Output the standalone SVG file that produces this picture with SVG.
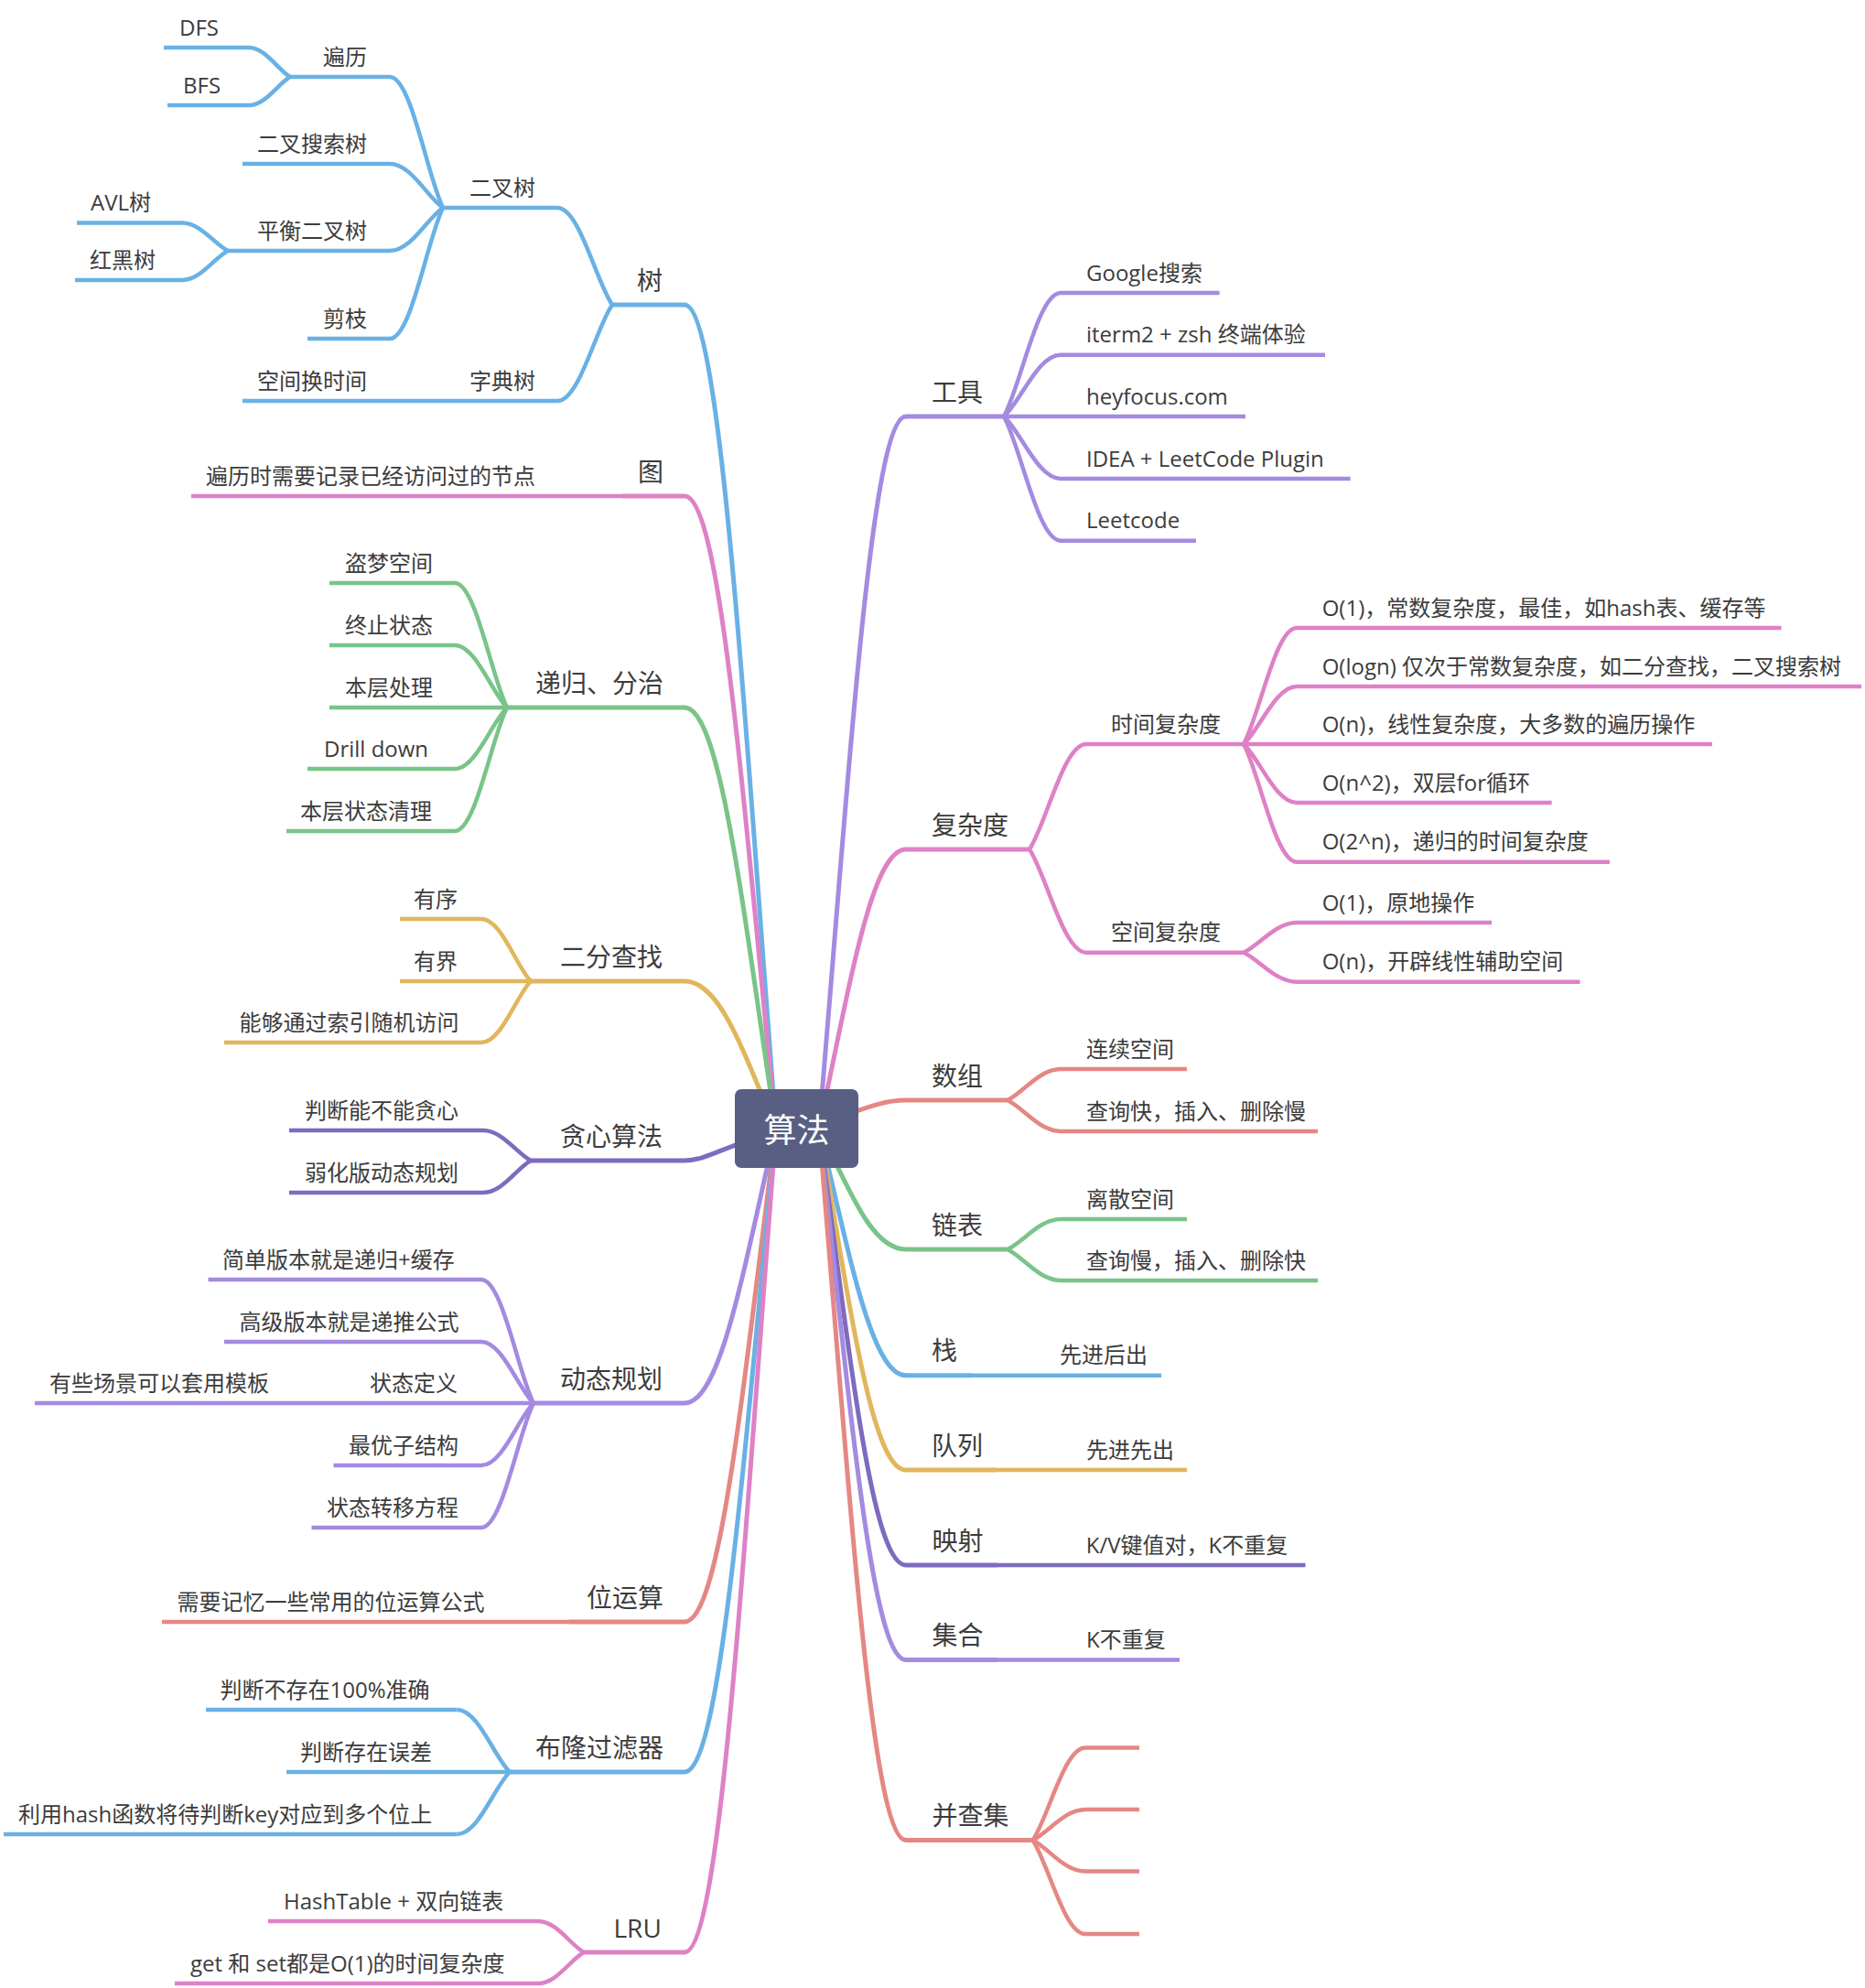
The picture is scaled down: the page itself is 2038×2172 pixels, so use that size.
<svg xmlns="http://www.w3.org/2000/svg" width="2038" height="2172" viewBox="0 0 2038 2172">
<style>
.t{font-family:"Open Sans","Noto Sans CJK SC",sans-serif;fill:#3c3c3c}
.s{font-size:24px}
.m{font-size:28px}
.r{font-family:"Noto Sans CJK SC","Open Sans",sans-serif;font-size:36px;fill:#ffffff}
.l{fill:none;stroke-width:4.5}
.lm{fill:none;stroke-width:5}
.c1{stroke:#69b1e5}
.c2{stroke:#de81c6}
.c3{stroke:#79c488}
.c4{stroke:#e1b65d}
.c5{stroke:#7e6bbf}
.c6{stroke:#a48ae0}
.c7{stroke:#e58784}
</style>
<rect width="2038" height="2172" fill="#ffffff"/>
<g id="connectors">
<path class="lm c1" d="M848,1233 C813,783 788,333 748,333"/>
<path class="lm c2" d="M848,1233 C813,887.5 788,542 748,542"/>
<path class="lm c3" d="M848,1233 C813,1003 788,773 748,773"/>
<path class="lm c4" d="M848,1233 C813,1152.5 788,1072 748,1072"/>
<path class="lm c5" d="M848,1240 C800,1246 775,1268 748,1268"/>
<path class="lm c6" d="M848,1233 C813,1383 788,1533 748,1533"/>
<path class="lm c7" d="M848,1233 C813,1502.5 788,1772 748,1772"/>
<path class="lm c1" d="M848,1233 C813,1584.5 788,1936 748,1936"/>
<path class="lm c2" d="M848,1233 C813,1683 788,2133 748,2133"/>
<path class="lm c6" d="M895,1233 C928,844 952,455 990,455"/>
<path class="lm c2" d="M895,1233 C928,1080.5 952,928 990,928"/>
<path class="lm c7" d="M895,1228 C930,1218 958,1202 990,1202"/>
<path class="lm c3" d="M895,1233 C928,1299 952,1365 990,1365"/>
<path class="lm c1" d="M895,1233 C928,1368 952,1502.7 990,1502.7"/>
<path class="lm c4" d="M895,1233 C928,1419.5 952,1606 990,1606"/>
<path class="lm c5" d="M895,1233 C928,1471.5 952,1710 990,1710"/>
<path class="lm c6" d="M895,1233 C928,1523 952,1813.5 990,1813.5"/>
<path class="lm c7" d="M895,1233 C928,1622 952,2010.6 990,2010.6"/>
<path class="l c1" d="M669,333 C651,306.5 633,227 609,227"/>
<path class="l c1" d="M669,333 C651,359.25 633,438 609,438"/>
<path class="l c1" d="M484,227 C466.6,191.25 449.2,84 426,84"/>
<path class="l c1" d="M484,227 C466.6,215 449.2,179 426,179"/>
<path class="l c1" d="M484,227 C466.6,238.75 449.2,274 426,274"/>
<path class="l c1" d="M484,227 C466.6,262.75 449.2,370 426,370"/>
<path class="l c1" d="M317,84 C303.5,76 290,52 272,52"/>
<path class="l c1" d="M317,84 C303.5,91.75 290,115 272,115"/>
<path class="l c1" d="M249,274 C234,266.4 219,243.5 199,243.5"/>
<path class="l c1" d="M249,274 C234,282 219,306 199,306"/>
<path class="l c3" d="M554,773 C536.9,739 519.8,637 497,637"/>
<path class="l c3" d="M554,773 C536.9,756 519.8,705 497,705"/>
<path class="l c3" d="M554,773 C536.9,789.75 519.8,840 497,840"/>
<path class="l c3" d="M554,773 C536.9,806.75 519.8,908 497,908"/>
<path class="l c4" d="M580,1072 C563.8,1055 547.6,1004 526,1004"/>
<path class="l c4" d="M580,1072 C563.8,1088.75 547.6,1139 526,1139"/>
<path class="l c5" d="M580,1268 C564.4,1259.75 548.8,1235 528,1235"/>
<path class="l c5" d="M580,1268 C564.4,1276.75 548.8,1303 528,1303"/>
<path class="l c6" d="M583,1533 C565.9,1499.25 548.8,1398 526,1398"/>
<path class="l c6" d="M583,1533 C565.9,1516.25 548.8,1466 526,1466"/>
<path class="l c6" d="M583,1533 C565.9,1550 548.8,1601 526,1601"/>
<path class="l c6" d="M583,1533 C565.9,1567 548.8,1669 526,1669"/>
<path class="l c1" d="M557,1936 C539.75,1919 522.5,1868 499.5,1868"/>
<path class="l c1" d="M557,1936 C539.75,1953 522.5,2004 499.5,2004"/>
<path class="l c2" d="M638,2133 C623,2124.5 608,2099 588,2099"/>
<path class="l c2" d="M638,2133 C623,2141.5 608,2167 588,2167"/>
<path class="l c6" d="M1097,455 C1115.6,421.25 1134.2,320 1159,320"/>
<path class="l c6" d="M1097,455 C1115.6,438.2 1134.2,387.7 1159,387.7"/>
<path class="l c6" d="M1097,455 C1115.6,472 1134.2,523 1159,523"/>
<path class="l c6" d="M1097,455 C1115.6,488.9 1134.2,590.7 1159,590.7"/>
<path class="l c2" d="M1125,928 C1143.6,899.25 1162.2,813 1187,813"/>
<path class="l c2" d="M1125,928 C1143.6,956.2 1162.2,1040.7 1187,1040.7"/>
<path class="l c2" d="M1359,813 C1376.4,781.25 1393.8,686 1417,686"/>
<path class="l c2" d="M1359,813 C1376.4,797.25 1393.8,750 1417,750"/>
<path class="l c2" d="M1359,813 C1376.4,829 1393.8,877 1417,877"/>
<path class="l c2" d="M1359,813 C1376.4,845.2 1393.8,941.7 1417,941.7"/>
<path class="l c2" d="M1359,1040.7 C1376.4,1032.5 1393.8,1008 1417,1008"/>
<path class="l c2" d="M1359,1040.7 C1376.4,1048.7 1393.8,1072.7 1417,1072.7"/>
<path class="l c7" d="M1101,1202 C1118.4,1193.5 1135.8,1168 1159,1168"/>
<path class="l c7" d="M1101,1202 C1118.4,1210.5 1135.8,1236 1159,1236"/>
<path class="l c3" d="M1101,1365 C1118.4,1356.75 1135.8,1332 1159,1332"/>
<path class="l c3" d="M1101,1365 C1118.4,1373.5 1135.8,1399 1159,1399"/>
<path class="l c7" d="M1128.5,2010.6 C1145.75,1985.3 1163,1909.5 1186,1909.5"/>
<path class="l c7" d="M1128.5,2010.6 C1145.75,2002.2 1163,1977 1186,1977"/>
<path class="l c7" d="M1128.5,2010.6 C1145.75,2019.1 1163,2044.6 1186,2044.6"/>
<path class="l c7" d="M1128.5,2010.6 C1145.75,2036.2 1163,2113 1186,2113"/>
</g>
<g id="n_tree"><path class="lm c1" d="M669,333H748"/><text class="t m" x="696" y="316.5">树</text></g>
<g id="n_bintree"><path class="l c1" d="M484,227H609"/><text class="t s" x="513" y="213.5">二叉树</text></g>
<g id="n_traverse"><path class="l c1" d="M317,84H426"/><text class="t s" x="353" y="70.5">遍历</text></g>
<g id="n_dfs"><path class="l c1" d="M179,52H272"/><text class="t s" x="196" y="38.5">DFS</text></g>
<g id="n_bfs"><path class="l c1" d="M183,115H272"/><text class="t s" x="200" y="101.5">BFS</text></g>
<g id="n_bst"><path class="l c1" d="M265,179H426"/><text class="t s" x="281" y="165.5">二叉搜索树</text></g>
<g id="n_balanced"><path class="l c1" d="M249,274H426"/><text class="t s" x="281" y="260.5">平衡二叉树</text></g>
<g id="n_avl"><path class="l c1" d="M84,243.5H199"/><text class="t s" x="99" y="230">AVL树</text></g>
<g id="n_rbt"><path class="l c1" d="M82,306H199"/><text class="t s" x="98" y="292.5">红黑树</text></g>
<g id="n_prune"><path class="l c1" d="M336,370H426"/><text class="t s" x="353" y="356.5">剪枝</text></g>
<g id="n_trie"><path class="l c1" d="M494,438H609"/><text class="t s" x="513" y="424.5">字典树</text></g>
<g id="n_spacetime"><path class="l c1" d="M265,438H494"/><text class="t s" x="281" y="424.5">空间换时间</text></g>
<g id="n_graph"><path class="lm c2" d="M680,542H748"/><text class="t m" x="697" y="525.5">图</text></g>
<g id="n_visited"><path class="l c2" d="M209,542H680"/><text class="t s" x="225" y="528.5">遍历时需要记录已经访问过的节点</text></g>
<g id="n_recursion"><path class="lm c3" d="M554,773H748"/><text class="t m" x="585" y="756.5">递归、分治</text></g>
<g id="n_inception"><path class="l c3" d="M360,637H497"/><text class="t s" x="377" y="623.5">盗梦空间</text></g>
<g id="n_terminator"><path class="l c3" d="M360,705H497"/><text class="t s" x="377" y="691.5">终止状态</text></g>
<g id="n_process"><path class="l c3" d="M360,773H554"/><text class="t s" x="377" y="759.5">本层处理</text></g>
<g id="n_drill"><path class="l c3" d="M336,840H497"/><text class="t s" x="354" y="826.5">Drill down</text></g>
<g id="n_cleanup"><path class="l c3" d="M313,908H497"/><text class="t s" x="328" y="894.5">本层状态清理</text></g>
<g id="n_bsearch"><path class="lm c4" d="M580,1072H748"/><text class="t m" x="612" y="1055.5">二分查找</text></g>
<g id="n_sorted"><path class="l c4" d="M437,1004H526"/><text class="t s" x="452" y="990.5">有序</text></g>
<g id="n_bounded"><path class="l c4" d="M437,1072H580"/><text class="t s" x="452" y="1058.5">有界</text></g>
<g id="n_index"><path class="l c4" d="M245,1139H526"/><text class="t s" x="261.5" y="1125.5">能够通过索引随机访问</text></g>
<g id="n_greedy"><path class="lm c5" d="M580,1268H748"/><text class="t m" x="612" y="1251.5">贪心算法</text></g>
<g id="n_greedy1"><path class="l c5" d="M316,1235H528"/><text class="t s" x="333" y="1221.5">判断能不能贪心</text></g>
<g id="n_greedy2"><path class="l c5" d="M316,1303H528"/><text class="t s" x="333" y="1289.5">弱化版动态规划</text></g>
<g id="n_dp"><path class="lm c6" d="M583,1533H748"/><text class="t m" x="612" y="1516.5">动态规划</text></g>
<g id="n_dp1"><path class="l c6" d="M227.5,1398H526"/><text class="t s" x="243" y="1384.5">简单版本就是递归+缓存</text></g>
<g id="n_dp2"><path class="l c6" d="M245,1466H526"/><text class="t s" x="261.5" y="1452.5">高级版本就是递推公式</text></g>
<g id="n_dp3"><path class="l c6" d="M389,1533H583"/><text class="t s" x="404" y="1519.5">状态定义</text></g>
<g id="n_dp3a"><path class="l c6" d="M38,1533H389"/><text class="t s" x="54" y="1519.5">有些场景可以套用模板</text></g>
<g id="n_dp4"><path class="l c6" d="M364.5,1601H526"/><text class="t s" x="381" y="1587.5">最优子结构</text></g>
<g id="n_dp5"><path class="l c6" d="M340.5,1669H526"/><text class="t s" x="357" y="1655.5">状态转移方程</text></g>
<g id="n_bit"><path class="lm c7" d="M622,1772H748"/><text class="t m" x="641" y="1755.5">位运算</text></g>
<g id="n_bit1"><path class="l c7" d="M177,1772H622"/><text class="t s" x="193.5" y="1758.5">需要记忆一些常用的位运算公式</text></g>
<g id="n_bloom"><path class="lm c1" d="M557,1936H748"/><text class="t m" x="585" y="1919.5">布隆过滤器</text></g>
<g id="n_bloom1"><path class="l c1" d="M225,1868H499.5"/><text class="t s" x="240.6" y="1854.5">判断不存在100%准确</text></g>
<g id="n_bloom2"><path class="l c1" d="M313,1936H557"/><text class="t s" x="328" y="1922.5">判断存在误差</text></g>
<g id="n_bloom3"><path class="l c1" d="M4,2004H499.5"/><text class="t s" x="20" y="1990.5">利用hash函数将待判断key对应到多个位上</text></g>
<g id="n_lru"><path class="lm c2" d="M638,2133H748"/><text class="t m" x="670.5" y="2116.5">LRU</text></g>
<g id="n_lru1"><path class="l c2" d="M293,2099H588"/><text class="t s" x="310" y="2085.5">HashTable + 双向链表</text></g>
<g id="n_lru2"><path class="l c2" d="M191,2167H588"/><text class="t s" x="208" y="2153.5">get 和 set都是O(1)的时间复杂度</text></g>
<g id="n_tools"><path class="lm c6" d="M990,455H1097"/><text class="t m" x="1018" y="438.5">工具</text></g>
<g id="n_google"><path class="l c6" d="M1159,320H1332.6"/><text class="t s" x="1187" y="306.5">Google搜索</text></g>
<g id="n_iterm"><path class="l c6" d="M1159,387.7H1448"/><text class="t s" x="1187" y="374">iterm2 + zsh 终端体验</text></g>
<g id="n_heyfocus"><path class="l c6" d="M1097,455H1361"/><text class="t s" x="1187" y="441.5">heyfocus.com</text></g>
<g id="n_idea"><path class="l c6" d="M1159,523H1475.6"/><text class="t s" x="1187" y="509.5">IDEA + LeetCode Plugin</text></g>
<g id="n_leetcode"><path class="l c6" d="M1159,590.7H1307"/><text class="t s" x="1187" y="577">Leetcode</text></g>
<g id="n_complexity"><path class="lm c2" d="M990,928H1125"/><text class="t m" x="1018" y="911.5">复杂度</text></g>
<g id="n_time"><path class="l c2" d="M1187,813H1359"/><text class="t s" x="1214" y="799.5">时间复杂度</text></g>
<g id="n_o1"><path class="l c2" d="M1417,686H1946.6"/><text class="t s" x="1444.7" y="672.5">O(1)，常数复杂度，最佳，如hash表、缓存等</text></g>
<g id="n_ologn"><path class="l c2" d="M1417,750H2034"/><text class="t s" x="1444.7" y="736.5">O(logn) 仅次于常数复杂度，如二分查找，二叉搜索树</text></g>
<g id="n_on"><path class="l c2" d="M1359,813H1871"/><text class="t s" x="1444.7" y="799.5">O(n)，线性复杂度，大多数的遍历操作</text></g>
<g id="n_on2"><path class="l c2" d="M1417,877H1695.6"/><text class="t s" x="1444.7" y="863.5">O(n^2)，双层for循环</text></g>
<g id="n_o2n"><path class="l c2" d="M1417,941.7H1759"/><text class="t s" x="1444.7" y="928">O(2^n)，递归的时间复杂度</text></g>
<g id="n_space"><path class="l c2" d="M1187,1040.7H1359"/><text class="t s" x="1214" y="1027">空间复杂度</text></g>
<g id="n_s1"><path class="l c2" d="M1417,1008H1630"/><text class="t s" x="1444.7" y="994.5">O(1)，原地操作</text></g>
<g id="n_sn"><path class="l c2" d="M1417,1072.7H1726.6"/><text class="t s" x="1444.7" y="1059">O(n)，开辟线性辅助空间</text></g>
<g id="n_array"><path class="lm c7" d="M990,1202H1101"/><text class="t m" x="1018" y="1185.5">数组</text></g>
<g id="n_array1"><path class="l c7" d="M1159,1168H1297"/><text class="t s" x="1187" y="1154.5">连续空间</text></g>
<g id="n_array2"><path class="l c7" d="M1159,1236H1440"/><text class="t s" x="1187" y="1222.5">查询快，插入、删除慢</text></g>
<g id="n_list"><path class="lm c3" d="M990,1365H1101"/><text class="t m" x="1018" y="1348.5">链表</text></g>
<g id="n_list1"><path class="l c3" d="M1159,1332H1297"/><text class="t s" x="1187" y="1318.5">离散空间</text></g>
<g id="n_list2"><path class="l c3" d="M1159,1399H1440"/><text class="t s" x="1187" y="1385.5">查询慢，插入、删除快</text></g>
<g id="n_stack"><path class="lm c1" d="M990,1502.7H1062"/><text class="t m" x="1018" y="1486.2">栈</text></g>
<g id="n_stack1"><path class="l c1" d="M1062,1502.7H1269"/><text class="t s" x="1158" y="1489.2">先进后出</text></g>
<g id="n_queue"><path class="lm c4" d="M990,1606H1089"/><text class="t m" x="1018" y="1589.5">队列</text></g>
<g id="n_queue1"><path class="l c4" d="M1089,1606H1297"/><text class="t s" x="1187" y="1592.5">先进先出</text></g>
<g id="n_map"><path class="lm c5" d="M990,1710H1090"/><text class="t m" x="1018.6" y="1693.5">映射</text></g>
<g id="n_map1"><path class="l c5" d="M1090,1710H1426.5"/><text class="t s" x="1186.7" y="1696.5">K/V键值对，K不重复</text></g>
<g id="n_set"><path class="lm c6" d="M990,1813.5H1090"/><text class="t m" x="1018.6" y="1797">集合</text></g>
<g id="n_set1"><path class="l c6" d="M1090,1813.5H1289"/><text class="t s" x="1187" y="1800">K不重复</text></g>
<g id="n_uf"><path class="lm c7" d="M990,2010.6H1128.5"/><text class="t m" x="1018.6" y="1994.1">并查集</text></g>
<g id="n_uf1"><path class="l c7" d="M1186,1909.5H1245"/></g>
<g id="n_uf2"><path class="l c7" d="M1186,1977H1245"/></g>
<g id="n_uf3"><path class="l c7" d="M1186,2044.6H1245"/></g>
<g id="n_uf4"><path class="l c7" d="M1186,2113H1245"/></g>
<g id="n_root"><rect x="803" y="1190" width="135" height="86" rx="7" fill="#585f83"/><text class="r" x="870.5" y="1247.5" text-anchor="middle">算法</text></g>
</svg>
